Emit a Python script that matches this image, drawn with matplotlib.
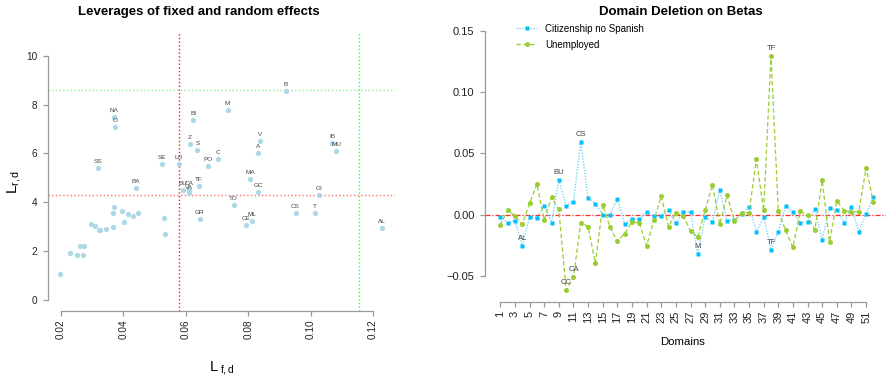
import matplotlib
matplotlib.use("Agg")
import matplotlib.pyplot as plt

plt.rcParams['font.family'] = ['Liberation Sans', 'DejaVu Sans']
plt.rcParams['mathtext.fontset'] = 'custom'
plt.rcParams['mathtext.rm'] = 'Liberation Sans'
plt.rcParams['mathtext.it'] = 'Liberation Sans:italic'

# leverages (left panel), label '' means the point is not labelled
lev_fixed = [0.0198, 0.0227, 0.0252, 0.0262, 0.0270, 0.0274, 0.0296, 0.0310, 0.0321,
             0.0325, 0.0343, 0.0366, 0.0366, 0.0370, 0.0394, 0.0401, 0.0415, 0.0430,
             0.0446, 0.0530, 0.0534,
             0.0370, 0.0374, 0.0317, 0.0439, 0.0525, 0.0577, 0.0624, 0.0612, 0.0637,
             0.0671, 0.0643, 0.0591, 0.0610, 0.0610, 0.0644, 0.0921, 0.0734, 0.0838,
             0.0833, 0.0703, 0.1070, 0.1083, 0.0807, 0.0833, 0.1028, 0.0753, 0.0952,
             0.1014, 0.0812, 0.0793, 0.1230]
lev_random = [1.06, 1.92, 1.85, 2.21, 1.85, 2.22, 3.11, 3.04, 2.89,
              2.86, 2.91, 3.01, 3.57, 3.83, 3.65, 3.19, 3.54, 3.45,
              3.56, 3.38, 2.70,
              7.49, 7.08, 5.41, 4.58, 5.57, 5.57, 7.38, 6.40, 6.14,
              5.48, 4.69, 4.52, 4.51, 4.37, 3.31, 8.54, 7.76, 6.53,
              6.01, 5.77, 6.44, 6.10, 4.97, 4.43, 4.32, 3.90, 3.57,
              3.57, 3.23, 3.08, 2.97]
lev_labels = [''] * 21 + ['NA', 'O', 'SS', 'BA', 'SE', 'LO', 'BI', 'Z', 'S',
                          'PO', 'TF', 'BU', 'CA', 'VA', 'GR', 'B', 'M', 'V',
                          'A', 'C', 'IB', 'MU', 'MA', 'GC', 'GI', 'TO', 'CS',
                          'T', 'ML', 'CE', 'AL']
mean_fixed = 0.0578
mean_random = 4.29

# domain deletion (right panel)
domains = list(range(1, 53))
citizenship = [-0.0019, -0.0065, -0.0049, -0.0253, -0.0019, -0.0024, 0.0073, -0.0065,
               0.0283, 0.0073, 0.0106, 0.0595, 0.0139, 0.0090, 0.0000, 0.0000,
               0.0127, -0.0074, -0.0037, -0.0037, 0.0020, -0.0012, -0.0010, 0.0036,
               -0.0068, 0.0020, 0.0020, -0.0321, -0.0019, -0.0059, 0.0200, -0.0050,
               -0.0046, 0.0008, 0.0062, -0.0139, -0.0019, -0.0286, -0.0139, 0.0074,
               0.0022, -0.0065, -0.0057, 0.0046, -0.0204, 0.0054, 0.0038, -0.0065,
               0.0063, -0.0139, 0.0008, 0.0144]
unemployed = [-0.0084, 0.0038, -0.0011, -0.0079, 0.0092, 0.0250, -0.0043, 0.0141,
              0.0043, -0.0617, -0.0508, -0.0065, -0.0098, -0.0397, 0.0079, -0.0103,
              -0.0219, -0.0154, -0.0062, -0.0065, -0.0255, -0.0045, 0.0151, -0.0100,
              0.0016, -0.0011, -0.0131, -0.0185, 0.0035, 0.0245, -0.0079, 0.0158,
              -0.0048, 0.0012, 0.0017, 0.0452, 0.0035, 0.1299, 0.0033, -0.0128,
              -0.0267, 0.0027, -0.0005, -0.0123, 0.0280, -0.0221, 0.0112, 0.0033,
              0.0022, 0.0025, 0.0384, 0.0101]
cit_labels = {4: 'AL', 9: 'BU', 12: 'CS', 28: 'M', 38: 'TF'}
unemp_labels = {10: 'CC', 11: 'CA', 38: 'TF'}

AXIS_GREY = '#9a9a9a'


def r_style(ax, xb, yb, fs):
    for s in ('top', 'right'):
        ax.spines[s].set_visible(False)
    for s in ('left', 'bottom'):
        ax.spines[s].set_color(AXIS_GREY)
        ax.spines[s].set_linewidth(0.9)
    ax.spines['left'].set_bounds(*yb)
    ax.spines['bottom'].set_bounds(*xb)
    ax.tick_params(colors=AXIS_GREY, labelcolor='#222222', length=3.5,
                   width=0.9, labelsize=fs)


fig = plt.figure(figsize=(8.86, 3.81), dpi=100)

# ---- left: leverages
ax1 = fig.add_axes([0.05384, 0.18451, 0.39199, 0.72887])
ax1.set_xlim(0.0157, 0.1271)
ax1.set_ylim(-0.42, 10.92)
ax1.axvline(mean_fixed, color='#ff1a1a', ls=':', lw=1.0, zorder=1)
ax1.axvline(2 * mean_fixed, color='#33ff33', ls=':', lw=1.0, zorder=1)
ax1.axhline(mean_random, color='#ff7070', ls=':', lw=1.0, zorder=1)
ax1.axhline(2 * mean_random, color='#88ee88', ls=':', lw=1.0, zorder=1)
ax1.plot(lev_fixed, lev_random, 'o', color='lightblue', ms=3.8, mec='none', zorder=2)
for x, y, lab in zip(lev_fixed, lev_random, lev_labels):
    if lab:
        ax1.annotate(lab, (x, y), xytext=(0, 4.6), textcoords='offset points',
                     ha='center', va='center', fontsize=4.6, color='#444444')
ax1.set_xticks([0.02, 0.04, 0.06, 0.08, 0.10, 0.12])
ax1.set_xticklabels(['0.02', '0.04', '0.06', '0.08', '0.10', '0.12'], rotation=90)
ax1.set_yticks([0, 2, 4, 6, 8, 10])
r_style(ax1, (0.02, 0.12), (0, 10), 7.2)
ax1.tick_params(axis='x', pad=2.5)
ax1.tick_params(axis='y', pad=4)
fig.text(199 / 886, 1 - 12 / 381, 'Leverages of fixed and random effects',
         ha='center', va='center', fontsize=9.5, fontweight='bold')
fig.text(14 / 886, 1 - 182 / 381, r'$\mathrm{L}_{\mathrm{r,d}}$', rotation=90,
         ha='center', va='center', fontsize=11)
fig.text(222 / 886, 1 - 368 / 381, r'$\mathrm{L}_{\ \mathrm{f,d}}$',
         ha='center', va='center', fontsize=10.5)

# ---- right: domain deletion
ax2 = fig.add_axes([0.5474, 0.20656, 0.45260, 0.73570])
ax2.set_xlim(-1.09, 53.72)
ax2.set_ylim(-0.0716, 0.1574)
ax2.axhline(0, color='#ff2a2a', lw=0.9, ls=(0, (4, 1.5, 1, 1.5)), zorder=1)
ax2.plot(domains, citizenship, ls=(0, (1, 1.3)), color='#5fcdf5', lw=0.9,
         marker='s', ms=3.3, mfc='deepskyblue', mec='none', zorder=2,
         label='Citizenship no Spanish')
ax2.plot(domains, unemployed, ls=(0, (3.5, 2)), color='yellowgreen', lw=0.9,
         marker='o', ms=3.6, mfc='yellowgreen', mec='none', zorder=3,
         label='Unemployed')
for d, lab in cit_labels.items():
    ax2.annotate(lab, (d, citizenship[d - 1]), xytext=(0, 5.2), textcoords='offset points',
                 ha='center', va='center', fontsize=5.5, color='#444444')
for d, lab in unemp_labels.items():
    ax2.annotate(lab, (d, unemployed[d - 1]), xytext=(0, 5.2), textcoords='offset points',
                 ha='center', va='center', fontsize=5.5, color='#444444')
ax2.set_xticks(list(range(1, 52, 2)))
ax2.set_xticklabels([str(i) for i in range(1, 52, 2)], rotation=90)
ax2.set_yticks([-0.05, 0.0, 0.05, 0.10, 0.15])
ax2.set_yticklabels(['\u22120.05', '0.00', '0.05', '0.10', '0.15'])
r_style(ax2, (1, 51), (-0.05, 0.15), 8)
ax2.tick_params(axis='x', pad=2.5)
ax2.tick_params(axis='y', pad=4)
ax2.legend(loc='upper left', bbox_to_anchor=(511 / 886, 1 - 19 / 381),
           bbox_transform=fig.transFigure, frameon=False, fontsize=7,
           handlelength=2.2, handletextpad=0.8, labelspacing=0.6, borderpad=0)
fig.text(681 / 886, 1 - 12 / 381, 'Domain Deletion on Betas',
         ha='center', va='center', fontsize=9.5, fontweight='bold')
fig.text(683 / 886, 1 - 342 / 381, 'Domains', ha='center', va='center', fontsize=8.2)

fig.savefig('out.png', dpi=100)
